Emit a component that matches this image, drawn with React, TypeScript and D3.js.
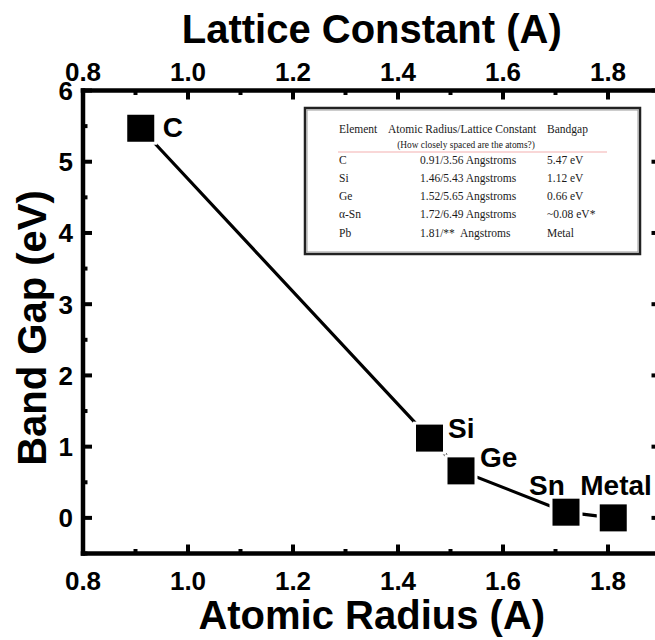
import React from "react";
import * as d3 from "d3";

const elements = ["C", "Si", "Ge", "Sn", "Metal"];
const atomicRadius = [0.91, 1.46, 1.52, 1.72, 1.81];
const bandGap = [5.47, 1.12, 0.66, 0.08, 0];

const xMajorTicks = [0.8, 1.0, 1.2, 1.4, 1.6, 1.8];
const xMinorTicks = [0.9, 1.1, 1.3, 1.5, 1.7, 1.9];
const yMajorTicks = [0, 1, 2, 3, 4, 5, 6];
const yMinorTicks = [-0.5, 0.5, 1.5, 2.5, 3.5, 4.5, 5.5];

const tableHeader = ["Element", "Atomic Radius/Lattice Constant", "Bandgap"];
const tableSub = "(How closely spaced are the atoms?)";
const tableElements = ["C", "Si", "Ge", "\u03b1-Sn", "Pb"];
const tableRadius = [
  "0.91/3.56 Angstroms",
  "1.46/5.43 Angstroms",
  "1.52/5.65 Angstroms",
  "1.72/6.49 Angstroms",
  "1.81/**\u00a0 Angstroms",
];
const tableGap = ["5.47 eV", "1.12 eV", "0.66 eV", "~0.08 eV*", "Metal"];

// label offsets (styling)
const labelOffsets: [number, number][] = [
  [22, 9],
  [18.5, 0],
  [19, -4],
  [-37, -17],
  [-33, -23],
];

const W = 655;
const H = 640;
const L = 83;
const R = 660.5;
const T = 90.5;
const B = 553.5;

export default function App() {
  const x = d3.scaleLinear().domain([0.8, 1.9]).range([L, R]);
  const y = d3.scaleLinear().domain([-0.5, 6]).range([B, T]);
  const line = d3
    .line<number>()
    .x((_, i) => x(atomicRadius[i]))
    .y((_, i) => y(bandGap[i]));
  const pathD = line(bandGap) || "";
  const sans = "'Liberation Sans', Arial, sans-serif";
  const serif = "'Liberation Serif', 'Times New Roman', serif";
  const ms = 27;
  const axisW = 4.5;
  const fmt = d3.format(".1f");

  const rowY = [164, 182, 200, 218, 237];

  return (
    <svg
      width={W}
      height={H}
      style={{ position: "absolute", left: 0, top: 0, background: "#fff" }}
    >
      {/* connecting line */}
      <path d={pathD} fill="none" stroke="#000" strokeWidth={3.2} />
      {/* markers with white halo */}
      {atomicRadius.map((v, i) => (
        <rect
          key={"h" + i}
          x={x(v) - ms / 2 - 3}
          y={y(bandGap[i]) - ms / 2 - 3}
          width={ms + 6}
          height={ms + 6}
          fill="#fff"
        />
      ))}
      {atomicRadius.map((v, i) => (
        <rect
          key={"m" + i}
          x={x(v) - ms / 2}
          y={y(bandGap[i]) - ms / 2}
          width={ms}
          height={ms}
          fill="#000"
        />
      ))}
      {elements.map((e, i) => (
        <text
          key={"l" + i}
          x={x(atomicRadius[i]) + labelOffsets[i][0]}
          y={y(bandGap[i]) + labelOffsets[i][1]}
          fontFamily={sans}
          fontWeight="bold"
          fontSize={28}
          fill="#000"
        >
          {e}
        </text>
      ))}

      {/* inset table */}
      <g>
        <rect x={305} y={108} width={335} height={146} fill="#fff" stroke="#222" strokeWidth={2.5} />
        <rect x={307} y={110} width={331} height={142} fill="none" stroke="#999" strokeWidth={1} />
        <g fontFamily={serif} fill="#1a1a1a" fontSize={11.5}>
          <text x={339} y={133}>{tableHeader[0]}</text>
          <text x={388} y={133}>{tableHeader[1]}</text>
          <text x={547} y={133}>{tableHeader[2]}</text>
          <text x={466} y={148} fontSize={9.4} textAnchor="middle">{tableSub}</text>
          {tableElements.map((e, i) => (
            <g key={"r" + i}>
              <text x={339} y={rowY[i]}>{e}</text>
              <text x={420} y={rowY[i]}>{tableRadius[i]}</text>
              <text x={547} y={rowY[i]}>{tableGap[i]}</text>
            </g>
          ))}
        </g>
        <line x1={338} x2={607} y1={152} y2={152} stroke="#f4b0b0" strokeWidth={1.2} />
      </g>

      {/* axes frame */}
      <g stroke="#000" strokeWidth={axisW} strokeLinecap="square">
        <line x1={L} x2={L} y1={T} y2={B} />
        <line x1={R} x2={R} y1={T} y2={B} />
        <line x1={L} x2={R} y1={T} y2={T} />
        <line x1={L} x2={R} y1={B} y2={B} />
      </g>
      {/* ticks */}
      <g stroke="#000" strokeWidth={4}>
        {xMajorTicks.map((t) => (
          <g key={"xt" + t}>
            <line x1={x(t)} x2={x(t)} y1={B} y2={B - 9} />
            <line x1={x(t)} x2={x(t)} y1={T} y2={T + 9} />
          </g>
        ))}
        {xMinorTicks.map((t) => (
          <g key={"xm" + t}>
            <line x1={x(t)} x2={x(t)} y1={B} y2={B - 4.5} />
            <line x1={x(t)} x2={x(t)} y1={T} y2={T + 4.5} />
          </g>
        ))}
        {yMajorTicks.map((t) => (
          <g key={"yt" + t}>
            <line x1={L} x2={L + 9} y1={y(t)} y2={y(t)} />
            <line x1={R} x2={R - 9} y1={y(t)} y2={y(t)} />
          </g>
        ))}
        {yMinorTicks.map((t) => (
          <g key={"ym" + t}>
            <line x1={L} x2={L + 4.5} y1={y(t)} y2={y(t)} />
            <line x1={R} x2={R - 4.5} y1={y(t)} y2={y(t)} />
          </g>
        ))}
      </g>
      {/* tick labels */}
      <g fontFamily={sans} fontWeight="bold" fontSize={26} fill="#000">
        {xMajorTicks.map((t) => (
          <text key={"xb" + t} x={x(t)} y={590} textAnchor="middle">
            {fmt(t)}
          </text>
        ))}
        {xMajorTicks.map((t) => (
          <text key={"xtop" + t} x={x(t)} y={81} textAnchor="middle">
            {fmt(t)}
          </text>
        ))}
        {yMajorTicks.map((t) => (
          <text key={"yl" + t} x={73} y={y(t) + 9.5} textAnchor="end">
            {t}
          </text>
        ))}
      </g>
      {/* axis titles */}
      <g fontFamily={sans} fontWeight="bold" fontSize={40} fill="#000">
        <text x={(L + R) / 2} y={629} textAnchor="middle">
          Atomic Radius (A)
        </text>
        <text x={(L + R) / 2} y={43} textAnchor="middle">
          Lattice Constant (A)
        </text>
        <text
          transform={`translate(46, 328) rotate(-90)`}
          textAnchor="middle"
        >
          Band Gap (eV)
        </text>
      </g>
    </svg>
  );
}
